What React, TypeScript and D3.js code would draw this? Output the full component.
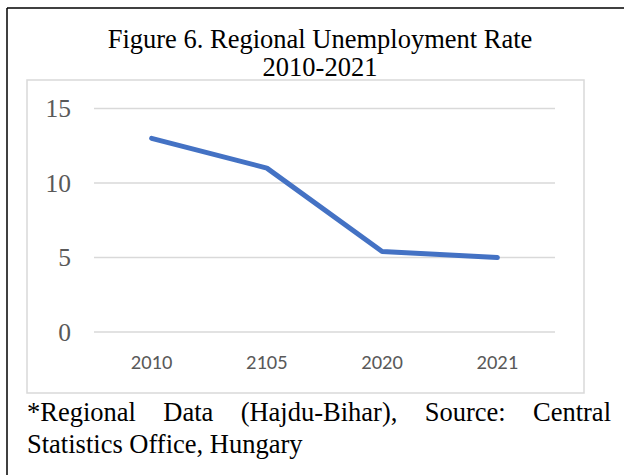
import React, { useMemo } from "react";
import * as d3 from "d3";

const categories = ["2010", "2105", "2020", "2021"];
const values = [13, 11, 5.4, 5.0];
const yTicks = [0, 5, 10, 15];
const titleLines = ["Figure 6. Regional Unemployment Rate", "2010-2021"];
const captionLine1 = ["*Regional", "Data", "(Hajdu-Bihar),", "Source:", "Central"];
const captionLine2 = "Statistics Office, Hungary";

const W = 624;
const H = 475;
const SERIF = "'Liberation Serif', 'Times New Roman', serif";
const SANS = "Carlito, 'Liberation Sans', Arial, sans-serif";

function measure(text: string, font: string): number {
  const c = document.createElement("canvas");
  const ctx = c.getContext("2d");
  if (!ctx) return text.length * 10;
  ctx.font = font;
  return ctx.measureText(text).width;
}

export default function App() {
  const x = d3.scaleBand<string>().domain(categories).range([94, 555]);
  const y = d3.scaleLinear().domain([0, 15]).range([332, 108.5]);
  const line = d3
    .line<number>()
    .x((_, i) => (x(categories[i]) as number) + x.bandwidth() / 2)
    .y((d) => y(d));

  const capSize = 26.5;
  const capFont = `${capSize}px ${SERIF}`;
  const capLeft = 27;
  const capRight = 611;
  const wordPos = useMemo(() => {
    const widths = captionLine1.map((w) => measure(w, capFont));
    const total = widths.reduce((a, b) => a + b, 0);
    const gap = (capRight - capLeft - total) / (captionLine1.length - 1);
    const pos: number[] = [];
    let cur = capLeft;
    widths.forEach((w) => {
      pos.push(cur);
      cur += w + gap;
    });
    return pos;
  }, []);

  return (
    <svg
      width={W}
      height={H}
      style={{ position: "absolute", left: 0, top: 0, background: "#fff" }}
    >
      <rect x={0} y={0} width={W} height={H} fill="#fff" />
      {/* outer border */}
      <line x1={7} y1={8} x2={W} y2={8} stroke="#000" strokeWidth={1.5} />
      <line x1={7} y1={8} x2={7} y2={H} stroke="#000" strokeWidth={1.5} />
      {/* title */}
      {titleLines.map((t, i) => (
        <text
          key={t}
          x={320}
          y={48 + i * 28}
          textAnchor="middle"
          fontFamily={SERIF}
          fontSize={26.5}
          fill="#000"
        >
          {t}
        </text>
      ))}
      {/* chart frame */}
      <rect
        x={27}
        y={80}
        width={557}
        height={313}
        fill="none"
        stroke="#d9d9d9"
        strokeWidth={1.5}
      />
      {/* gridlines */}
      {yTicks.map((t) => (
        <g key={t}>
          <line
            x1={94}
            x2={555}
            y1={y(t)}
            y2={y(t)}
            stroke="#d9d9d9"
            strokeWidth={1.5}
          />
          <text
            x={71}
            y={y(t)}
            dy="0.35em"
            textAnchor="end"
            fontFamily={SERIF}
            fontSize={25.5}
            fill="#595959"
          >
            {t}
          </text>
        </g>
      ))}
      {/* x labels */}
      {categories.map((c) => (
        <text
          key={c}
          x={(x(c) as number) + x.bandwidth() / 2}
          y={369}
          textAnchor="middle"
          fontFamily={SANS}
          fontSize={20.5}
          fill="#595959"
        >
          {c}
        </text>
      ))}
      {/* line */}
      <path
        d={line(values) || ""}
        fill="none"
        stroke="#4472C4"
        strokeWidth={5}
        strokeLinecap="round"
        strokeLinejoin="round"
      />
      {/* caption */}
      {captionLine1.map((w, i) => (
        <text
          key={w}
          x={wordPos[i]}
          y={421}
          fontFamily={SERIF}
          fontSize={capSize}
          fill="#000"
        >
          {w}
        </text>
      ))}
      <text x={capLeft} y={453} fontFamily={SERIF} fontSize={capSize} fill="#000">
        {captionLine2}
      </text>
    </svg>
  );
}
